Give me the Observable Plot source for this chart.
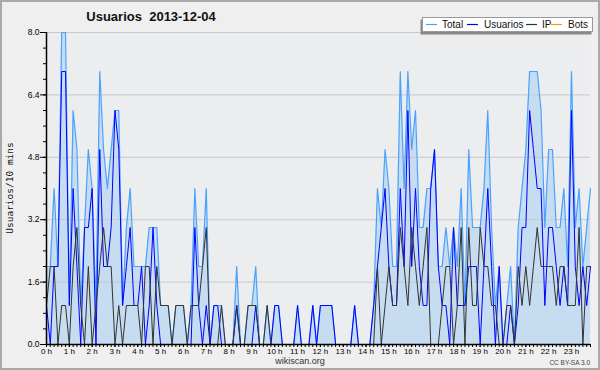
<!DOCTYPE html>
<html><head><meta charset="utf-8">
<script src="https://cdn.jsdelivr.net/npm/d3@7"></script>
<script src="https://cdn.jsdelivr.net/npm/@observablehq/plot@0.6"></script>
<style>
html,body{margin:0;padding:0;background:#efefef}
svg{display:block}
</style>
</head><body><div id="chart"></div>
<script>
const titleText = "Usuarios  2013-12-04";
const yLabel = "Usuarios/10 mins";
const seriesNames = ["Total", "Usuarios", "IP", "Bots"];
const seriesColors = ["#4aa2ff", "#0000ff", "#333333", "#ff9900"];
const hourLabels = ["0 h","1 h","2 h","3 h","4 h","5 h","6 h","7 h","8 h","9 h","10 h","11 h","12 h","13 h","14 h","15 h","16 h","17 h","18 h","19 h","20 h","21 h","22 h","23 h"];
const yTicks = [0, 1.6, 3.2, 4.8, 6.4, 8.0];

// values per 10-minute slot (144 slots)
const total = [
2,2,4,2,8,8,1,6,5,1, 3,5,4,1,7,5,4,5,6,6, 1,3,4,2,2,2,2,3,3,3,
1,1,1,0,1,1,1,0,1,4, 2,2,4,0,1,1,1,0,0,0, 2,0,0,1,1,2,0,0,1,0,
1,1,0,0,0,0,1,0,0,0, 1,0,1,1,1,1,0,0,0,0, 0,1,0,0,0,0,1,4,3,5,
4,2,2,7,4,7,5,6,3,3, 4,4,5,2,2,3,2,3,2,4, 1,5,3,3,3,4,6,3,1,2,
0,1,2,0,3,4,5,7,7,7, 6,3,5,5,3,3,4,2,7,3, 4,2,3,4];
const usuarios = [
1,0,2,2,7,7,1,4,2,0, 3,3,4,0,5,2,2,3,6,5, 1,2,3,1,1,2,0,1,3,1,
0,0,0,0,0,0,0,0,0,3, 1,0,1,0,1,1,0,0,0,0, 1,0,0,0,0,1,0,0,0,0,
1,1,0,0,0,0,1,0,0,0, 1,0,1,1,1,1,0,0,0,0, 0,1,0,0,0,0,1,2,3,4,
2,1,1,4,2,6,2,4,2,1, 1,4,5,2,1,1,0,3,1,1, 1,2,2,2,0,2,4,2,0,2,
0,0,1,0,1,3,3,6,5,4, 4,1,3,3,2,1,2,1,6,2, 1,2,1,2];
const ip = [
1,2,2,0,1,1,0,2,3,1, 0,2,0,1,2,3,2,2,0,1, 0,1,1,1,1,0,2,2,0,2,
1,1,1,0,1,1,1,0,1,1, 1,2,3,0,0,0,1,0,0,0, 1,0,0,1,1,1,0,0,1,0,
0,0,0,0,0,0,0,0,0,0, 0,0,0,0,0,0,0,0,0,0, 0,0,0,0,0,0,0,2,0,1,
2,1,1,3,2,1,3,2,1,2, 3,0,0,0,1,2,2,0,1,3, 0,3,1,1,3,2,2,1,1,0,
0,1,1,0,2,1,2,1,2,3, 2,2,2,2,1,2,2,1,1,1, 3,0,2,2];
const bots = [
0,0,0,0,0,0,0,0,0,0, 0,0,0,0,0,0,0,0,0,0, 0,0,0,0,0,0,0,0,0,0,
0,0,0,0,0,0,0,0,0,0, 0,0,0,0,0,0,0,0,0,0, 0,0,0,0,0,0,0,0,0,0,
0,0,0,0,0,0,0,0,0,0, 0,0,0,0,0,0,0,0,0,0, 0,0,0,0,0,0,0,0,0,0,
0,0,0,0,0,0,0,0,0,0, 0,0,0,0,0,0,0,0,0,0, 0,0,0,0,0,0,0,0,0,0,
0,0,0,0,0,0,0,0,0,0, 0,0,0,0,0,0,0,0,0,0, 0,0,0,0];

const data = total.map((t, i) => ({h: i / 6, total: t, usuarios: usuarios[i], ip: ip[i], bots: bots[i]}));
const hourTicks = hourLabels.map((_, i) => i);
const minorX = d3.range(0, 144).map(i => i / 6);
const minorY = d3.range(0, 21).map(i => i * 0.4);

const sans = "'Liberation Sans', Arial, sans-serif";

const chart = Plot.plot({
  width: 600, height: 370,
  marginLeft: 46, marginRight: 10, marginTop: 32, marginBottom: 26,
  style: {background: "#efefef", fontFamily: sans, fontSize: "8.5px", color: "#000", overflow: "visible"},
  x: {domain: [0, 143 / 6], label: null, axis: null},
  y: {domain: [0, 8], label: null, axis: null},
  marks: [
    Plot.frame({fill: "#ecedef", stroke: null}),
    Plot.areaY(data, {x: "h", y: "total", fill: "#c6dcf0"}),
    Plot.ruleY(yTicks.slice(1), {stroke: "#c9c9c9", strokeWidth: 1}),
    Plot.lineY(data, {x: "h", y: "total", stroke: seriesColors[0], strokeWidth: 1.2}),
    Plot.lineY(data, {x: "h", y: "usuarios", stroke: seriesColors[1], strokeWidth: 1}),
    Plot.lineY(data, {x: "h", y: "ip", stroke: seriesColors[2], strokeWidth: 1}),
    Plot.lineY(data, {x: "h", y: "bots", stroke: seriesColors[3], strokeWidth: 1}),
    Plot.axisY(minorY, {tickSize: 3, tickFormat: () => "", label: null, stroke: "#000"}),
    Plot.axisY(yTicks, {tickSize: 6, tickPadding: 1, tickFormat: d => d.toFixed(1), label: null, stroke: "#000", fill: "#000"}),
    Plot.axisX(minorX, {tickSize: 3, tickFormat: () => "", label: null, stroke: "#000"}),
    Plot.axisX(hourTicks, {tickSize: 3, tickPadding: 1, tickFormat: d => hourLabels[d], label: null, stroke: "#000", fill: "#000", fontSize: 8}),
    Plot.ruleX([0], {stroke: "#000", strokeWidth: 1.5}),
    Plot.ruleY([0], {stroke: "#000", strokeWidth: 1.5})
  ]
});

document.getElementById("chart").appendChild(chart);
const svg = d3.select(chart);

// border
svg.append("rect").attr("x", 1).attr("y", 1).attr("width", 598).attr("height", 368)
  .attr("fill", "none").attr("stroke", "#a9a9a9").attr("stroke-width", 2);

// title
svg.append("text").attr("x", 151).attr("y", 21).attr("text-anchor", "middle")
  .style("font-family", sans).style("font-weight", "bold").style("font-size", "13px")
  .style("white-space", "pre").attr("fill", "#111").text(titleText);

// y label
svg.append("text").attr("transform", "translate(13,188) rotate(-90)").attr("text-anchor", "middle")
  .style("font-family", "'DejaVu Sans Mono', monospace").style("font-size", "9.5px").attr("fill", "#111").text(yLabel);

// legend
const lg = svg.append("g");
lg.append("rect").attr("x", 420.5).attr("y", 19.5).attr("width", 171).attr("height", 15).attr("fill", "#888");
lg.append("rect").attr("x", 422.5).attr("y", 17.5).attr("width", 170).attr("height", 14).attr("fill", "#fff").attr("stroke", "#9a9a9a");
const lx = [426, 467, 526, 551];
const tx = [442, 484, 542, 568];
seriesNames.forEach((n, i) => {
  lg.append("line").attr("x1", lx[i]).attr("x2", lx[i] + 11).attr("y1", 24.5).attr("y2", 24.5)
    .attr("stroke", seriesColors[i]).attr("stroke-width", 1.2);
  lg.append("text").attr("x", tx[i]).attr("y", 28).attr("text-anchor", "start")
    .style("font-family", sans).style("font-size", "10px")
    .attr("fill", "#111").text(n);
});

// footer
svg.append("text").attr("x", 300).attr("y", 364).attr("text-anchor", "middle")
  .style("font-family", sans).style("font-size", "9px").attr("fill", "#333").text("wikiscan.org");
svg.append("text").attr("x", 590).attr("y", 365).attr("text-anchor", "end")
  .style("font-family", sans).style("font-size", "6.5px").attr("fill", "#444").text("CC BY-SA 3.0");
</script>
</body></html>
